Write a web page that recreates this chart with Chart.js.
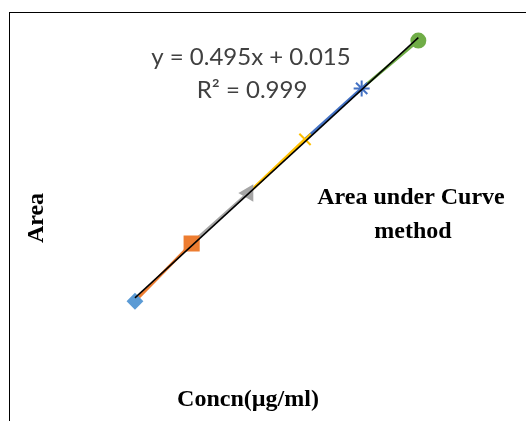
<!DOCTYPE html>
<html lang="en">
<head>
<meta charset="UTF-8">
<title>Area under Curve method</title>
<script src="https://cdn.jsdelivr.net/npm/chart.js@4.4.0/dist/chart.umd.min.js"></script>
<style>
    body { margin: 0; background: #fff; overflow: hidden; }
    .wrap { position: relative; width: 526px; height: 421px; }
    .frame { position: absolute; left: 9px; top: 12px; width: 600px; height: 500px; border: 1px solid #000; }
    canvas { position: absolute; left: 0; top: 0; }
</style>
</head>
<body>
<div class="wrap">
    <div class="frame"></div>
    <canvas id="calChart" width="526" height="421"></canvas>
</div>
<script>
    // calibration points
    const concn = [2, 4, 6, 8, 10, 12];
    const area = [0.94, 2.04, 3.0, 4.02, 4.99, 5.90];
    const markerColors = ['#5B9BD5', '#ED7D31', '#A5A5A5', '#FFC000', '#4472C4', '#70AD47'];
    const markerShapes = ['rectRot', 'rect', 'triangle', 'crossRot', 'star', 'circle'];
    const markerSizes = [7, 10, 8, 8, 8, 7];
    const markerTurns = [0, 0, 270, 0, 0, 0];

    // linear trendline end points
    const trendX = [2, 12];
    const trendY = [1.005, 5.955];

    const equationLines = ['y = 0.495x + 0.015', 'R\u00B2 = 0.999'];
    const titleLines = ['Area under Curve', 'method'];
    const xTitle = 'Concn(\u00B5g/ml)';
    const yTitle = 'Area';

    // text labels placed like the Excel chart
    const labelPlugin = {
        id: 'labels',
        afterDraw(chart) {
            const ctx = chart.ctx;
            ctx.save();
            ctx.textAlign = 'center';
            ctx.textBaseline = 'middle';
            ctx.fillStyle = '#404040';
            ctx.font = '24px Lato';
            ctx.fillText(equationLines[0], 251, 57);
            ctx.fillText(equationLines[1], 252, 90);

            ctx.fillStyle = '#000';
            ctx.font = 'bold 24px "Liberation Serif"';
            ctx.fillText(titleLines[0], 411, 198);
            ctx.fillText(titleLines[1], 413, 232);
            ctx.fillText(xTitle, 248, 400);

            ctx.translate(37, 218);
            ctx.rotate(-Math.PI / 2);
            ctx.fillText(yTitle, 0, 0);
            ctx.restore();
        }
    };

    new Chart(document.getElementById('calChart'), {
        type: 'scatter',
        data: {
            datasets: [
                {
                    label: 'Linear (Area)',
                    data: trendX.map((x, i) => ({ x: x, y: trendY[i] })),
                    showLine: true,
                    borderColor: '#000',
                    borderWidth: 1.5,
                    pointRadius: 0,
                    clip: false,
                    order: 0
                },
                {
                    label: 'Area',
                    data: concn.map((x, i) => ({ x: x, y: area[i] })),
                    showLine: true,
                    borderWidth: 3,
                    segment: {
                        borderColor: c => markerColors[c.p1DataIndex]
                    },
                    pointStyle: markerShapes,
                    pointRadius: markerSizes,
                    pointRotation: markerTurns,
                    pointBackgroundColor: markerColors,
                    pointBorderColor: markerColors,
                    pointBorderWidth: 2,
                    clip: false,
                    order: 1
                }
            ]
        },
        options: {
            responsive: false,
            animation: false,
            layout: {
                padding: { left: 78.3, right: 51, top: 8.6, bottom: 70.3 }
            },
            scales: {
                x: { display: false, min: 0, max: 14 },
                y: { display: false, min: 0, max: 6.5 }
            },
            plugins: {
                legend: { display: false },
                tooltip: { enabled: false }
            }
        },
        plugins: [labelPlugin]
    });
</script>
</body>
</html>
